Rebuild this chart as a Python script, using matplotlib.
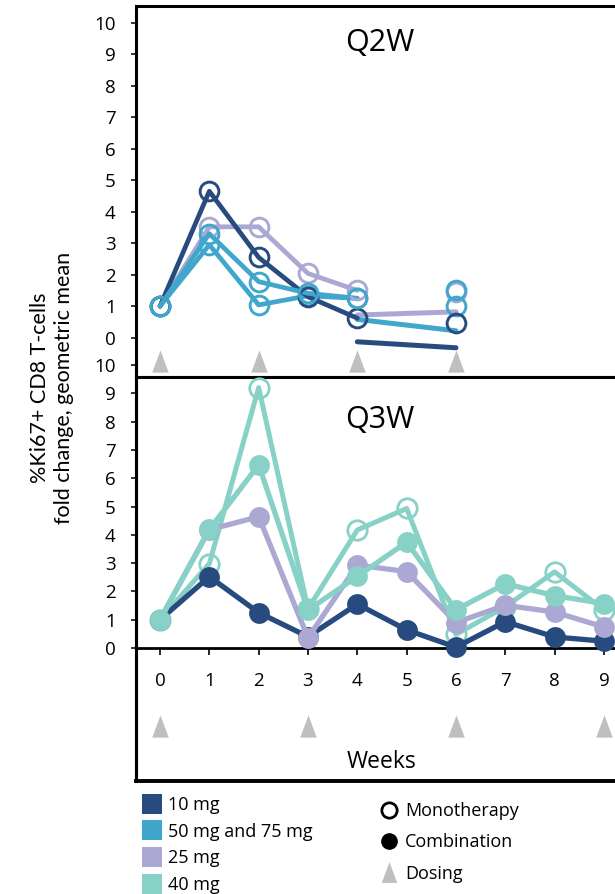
"""
%Ki67+ CD8 T-cells fold change, Q2W and Q3W panels.
"""
import matplotlib
matplotlib.use('Agg')
import matplotlib.pyplot as plt
from matplotlib.lines import Line2D

plt.rcParams['font.family'] = ['Open Sans', 'DejaVu Sans']

# colours
navy = '#274b7e'
blue = '#41a6cc'
lavender = '#aba8d3'
teal = '#88d1c7'
grey = '#bfbfbf'

# Q2W panel (monotherapy, open circles)
weeks_q2w = [0, 1, 2, 3, 4, 6]
q2w_10mg = [1.0, 4.65, 2.55, 1.30, 0.62, 0.48]
q2w_25mg = [1.0, 3.52, 3.52, 2.04, 1.50, 1.45]
q2w_50mg = [1.0, 3.30, 1.78, 1.41, 1.25, 1.51]
q2w_75mg = [1.0, 2.95, 1.04, 1.33, 1.25, 1.02]
# loose segments between week 4 and week 6
tail_weeks = [4, 6]
tail_25mg = [0.72, 0.82]
tail_50mg = [0.58, 0.22]
tail_10mg = [-0.13, -0.32]
dosing_q2w = [0, 2, 4, 6]

# Q3W panel
weeks_q3w = [0, 1, 2, 3, 4, 5, 6, 7, 8, 9]
q3w_10mg_combo = [1.0, 2.52, 1.25, 0.40, 1.55, 0.64, 0.03, 0.93, 0.39, 0.24]
q3w_25mg_combo = [1.0, 4.18, 4.64, 0.36, 2.93, 2.70, 0.90, 1.51, 1.27, 0.74]
q3w_40mg_combo = [1.0, 4.19, 6.47, 1.34, 2.53, 3.74, 1.35, 2.27, 1.85, 1.57]
q3w_40mg_mono = [1.0, 2.98, 9.20, 1.38, 4.17, 4.93, 0.48, 1.46, 2.69, 1.34]
dosing_q3w = [0, 3, 6, 9]

W, H = 615, 894
fig = plt.figure(figsize=(W / 100, H / 100), dpi=100)


def box(l, t, r, b):
    return [l / W, 1 - b / H, (r - l) / W, (b - t) / H]


# tall narrow triangle for dosing
tri = [(0, 1.35), (-1, -1.35), (1, -1.35), (0, 1.35)]
xlim = ((136 - 160) / 49.33, (640 - 160) / 49.33)

# ---- Q2W ----
ax1 = fig.add_axes(box(136, 6, 640, 377))
ax1.set_xlim(*xlim)
ax1.set_ylim((337.7 - 377) / 31.5, (337.7 - 6) / 31.5)
for sp in ax1.spines.values():
    sp.set_linewidth(2.2)
ax1.set_xticks([])
ax1.set_yticks(range(0, 11))
ax1.tick_params(axis='y', direction='out', length=3.5, width=1.1, labelsize=13.5, pad=11)

mono = dict(marker='o', ms=13.5, mfc='none', mew=2.1)
for vals, c in [(q2w_25mg, lavender), (q2w_75mg, blue), (q2w_10mg, navy), (q2w_50mg, blue)]:
    ax1.plot(weeks_q2w[:5], vals[:5], color=c, lw=3.4, solid_capstyle='round', zorder=3)
    ax1.plot(weeks_q2w, vals, ls='none', mec=c, zorder=4, **mono)
ax1.plot(tail_weeks, tail_25mg, color=lavender, lw=3.6, solid_capstyle='round', zorder=2)
ax1.plot(tail_weeks, tail_50mg, color=blue, lw=3.6, solid_capstyle='round', zorder=2)
ax1.plot(tail_weeks, tail_10mg, color=navy, lw=3.6, solid_capstyle='round', zorder=2)
ax1.plot(dosing_q2w, [-0.74] * 4, ls='none', marker=tri, ms=16, color=grey, mew=0)
ax1.text(4.46, 9.35, 'Q2W', ha='center', va='center', fontsize=22)

# ---- Q3W ----
axb = fig.add_axes(box(136, 377, 640, 781))
axb.set_xticks([])
axb.set_yticks([])
for sp in axb.spines.values():
    sp.set_linewidth(2.2)
axb.spines['bottom'].set_linewidth(2.8)
axb.set_zorder(0)

ax2 = fig.add_axes(box(136, 365, 640, 781))
ax2.set_zorder(2)
ax2.patch.set_alpha(0)
ax2.set_xlim(*xlim)
ax2.set_ylim((648 - 781) / 28.3, (648 - 365) / 28.3)
ax2.spines['top'].set_visible(False)
ax2.spines['right'].set_visible(False)
ax2.spines['left'].set_linewidth(2.2)
ax2.spines['bottom'].set_position(('data', 0))
ax2.spines['bottom'].set_linewidth(2.0)
ax2.set_yticks(range(0, 11))
ax2.set_xticks(weeks_q3w)
ax2.tick_params(axis='y', direction='out', length=3.5, width=1.1, labelsize=13.5, pad=11)
ax2.tick_params(axis='x', direction='out', length=5, width=1.2, labelsize=13.5, pad=12)

combo = dict(marker='o', ms=15, mew=0)
ax2.plot(weeks_q3w, q3w_40mg_mono, color=teal, lw=3.6, marker='o', ms=14, mfc='none', mec=teal, mew=2,
         clip_on=False, zorder=3)
ax2.plot(weeks_q3w, q3w_10mg_combo, color=navy, lw=3.8, clip_on=False, zorder=4, **combo)
ax2.plot(weeks_q3w, q3w_25mg_combo, color=lavender, lw=3.8, clip_on=False, zorder=5, **combo)
ax2.plot(weeks_q3w, q3w_40mg_combo, color=teal, lw=3.8, clip_on=False, zorder=6, **combo)
ax2.plot(dosing_q3w, [-2.74] * 4, ls='none', marker=tri, ms=16, color=grey, mew=0, clip_on=False)
ax2.text(4.46, 8.07, 'Q3W', ha='center', va='center', fontsize=22)
ax2.text(4.5, -4.03, 'Weeks', ha='center', va='center', fontsize=16.5)

fig.text(52 / W, 1 - 388 / H, '%Ki67+ CD8 T-cells\nfold change, geometric mean',
         rotation=90, ha='center', va='center', multialignment='center',
         fontsize=15.5, family=['Lato', 'DejaVu Sans'], linespacing=1.3)

# ---- legends ----
dose_handles = [Line2D([], [], ls='none', marker='s', ms=14, color=c, mew=0)
                for c in [navy, blue, lavender, teal]]
fig.legend(dose_handles, ['10 mg', '50 mg and 75 mg', '25 mg', '40 mg'],
           loc='upper left', bbox_to_anchor=(143 / W, 1 - 796 / H), frameon=False,
           fontsize=13, handlelength=1.0, handletextpad=0.4, labelspacing=0.48,
           borderpad=0, borderaxespad=0)
kind_handles = [Line2D([], [], ls='none', marker='o', ms=11, mfc='none', mec='black', mew=2),
                Line2D([], [], ls='none', marker='o', ms=12, color='black', mew=0),
                Line2D([], [], ls='none', marker=tri, ms=15, color=grey, mew=0)]
fig.legend(kind_handles, ['Monotherapy', 'Combination', 'Dosing'],
           loc='upper left', bbox_to_anchor=(380 / W, 1 - 802 / H), frameon=False,
           fontsize=13, handlelength=1.0, handletextpad=0.4, labelspacing=0.74,
           borderpad=0, borderaxespad=0)

fig.savefig('out.png', dpi=100)
